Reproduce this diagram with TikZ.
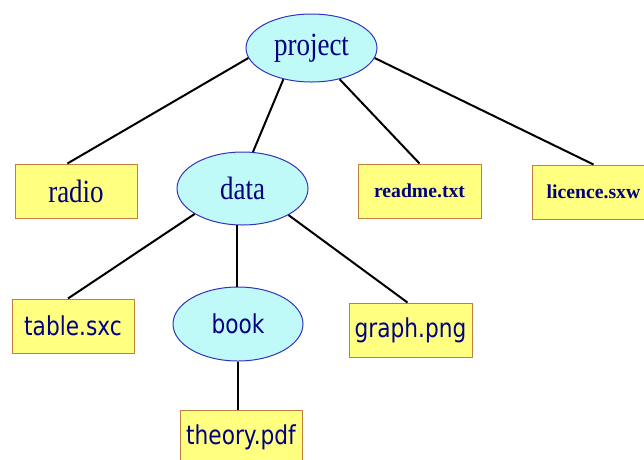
\documentclass[tikz,border=0pt]{standalone}
\usepackage{fontspec}
\usepackage{graphicx}
\setmainfont{Liberation Serif}
\newfontfamily\dejavu{DejaVu Sans}
\usetikzlibrary{shapes.geometric,calc}
\definecolor{ellfill}{RGB}{191,250,248}
\definecolor{elldraw}{RGB}{50,50,190}
\definecolor{boxfill}{RGB}{255,255,128}
\definecolor{boxdraw}{RGB}{192,128,64}
\definecolor{txt}{RGB}{0,0,128}
\newcommand\tallt[1]{\scalebox{1}[1.2]{#1}}
\tikzset{
  dirnode/.style={ellipse, draw=elldraw, fill=ellfill, line width=1pt, inner sep=0pt, text=txt},
  filebox/.style={rectangle, draw=boxdraw, fill=boxfill, line width=1pt, inner sep=0pt,
    minimum width=122pt, minimum height=54pt, text=txt},
  serifbig/.style={font=\fontsize{27}{30}\selectfont},
  sansmid/.style={font=\dejavu\fontsize{21.7}{24}\selectfont},
  serifbold/.style={font=\bfseries\fontsize{19.7}{22}\selectfont},
  conn/.style={line width=2pt, black}
}
\begin{document}
\begin{tikzpicture}[x=1pt,y=-1pt]
\useasboundingbox (0,0) rectangle (644,459);
\begin{scope}
\clip (0,0) rectangle (644,459);
\node[dirnode, serifbig, minimum width=131pt, minimum height=68pt] (project) at (311.5,48) {\tallt{project}};
\node[dirnode, serifbig, minimum width=131pt, minimum height=73pt] (data) at (242.5,188.5) {\tallt{data}};
\node[dirnode, sansmid, minimum width=130pt, minimum height=74pt] (book) at (238,324) {\tallt{book}};
\node[filebox, serifbig] (radio) at (76,191) {\tallt{radio}};
\node[filebox, serifbold, minimum width=123pt] (readme) at (419.5,191) {readme.txt};
\node[filebox, serifbold, minimum width=123pt] (licence) at (593.5,192) {licence.sxw};
\node[filebox, sansmid] (table) at (73,326) {\tallt{table.sxc}};
\node[filebox, sansmid, minimum width=123pt] (graph) at (410.5,330) {\tallt{graph.png}};
\node[filebox, sansmid] (theory) at (241,437) {\tallt{theory.pdf}};
\end{scope}
\draw[conn] (project.189) -- ($(radio.north west)!0.43!(radio.north east)$);
\draw[conn] (project.228) -- (data.74);
\draw[conn] (project.312) -- (readme.north);
\draw[conn] (project.351) -- (licence.north);
\draw[conn] (data.208) -- ($(table.north)+(-5,0)$);
\draw[conn] (data.261) -- (data.261 |- book.north);
\draw[conn] (data.330) -- ($(graph.north)+(-3,0)$);
\draw[conn] (book.south) -- (book.south |- theory.north);
\end{tikzpicture}
\end{document}
